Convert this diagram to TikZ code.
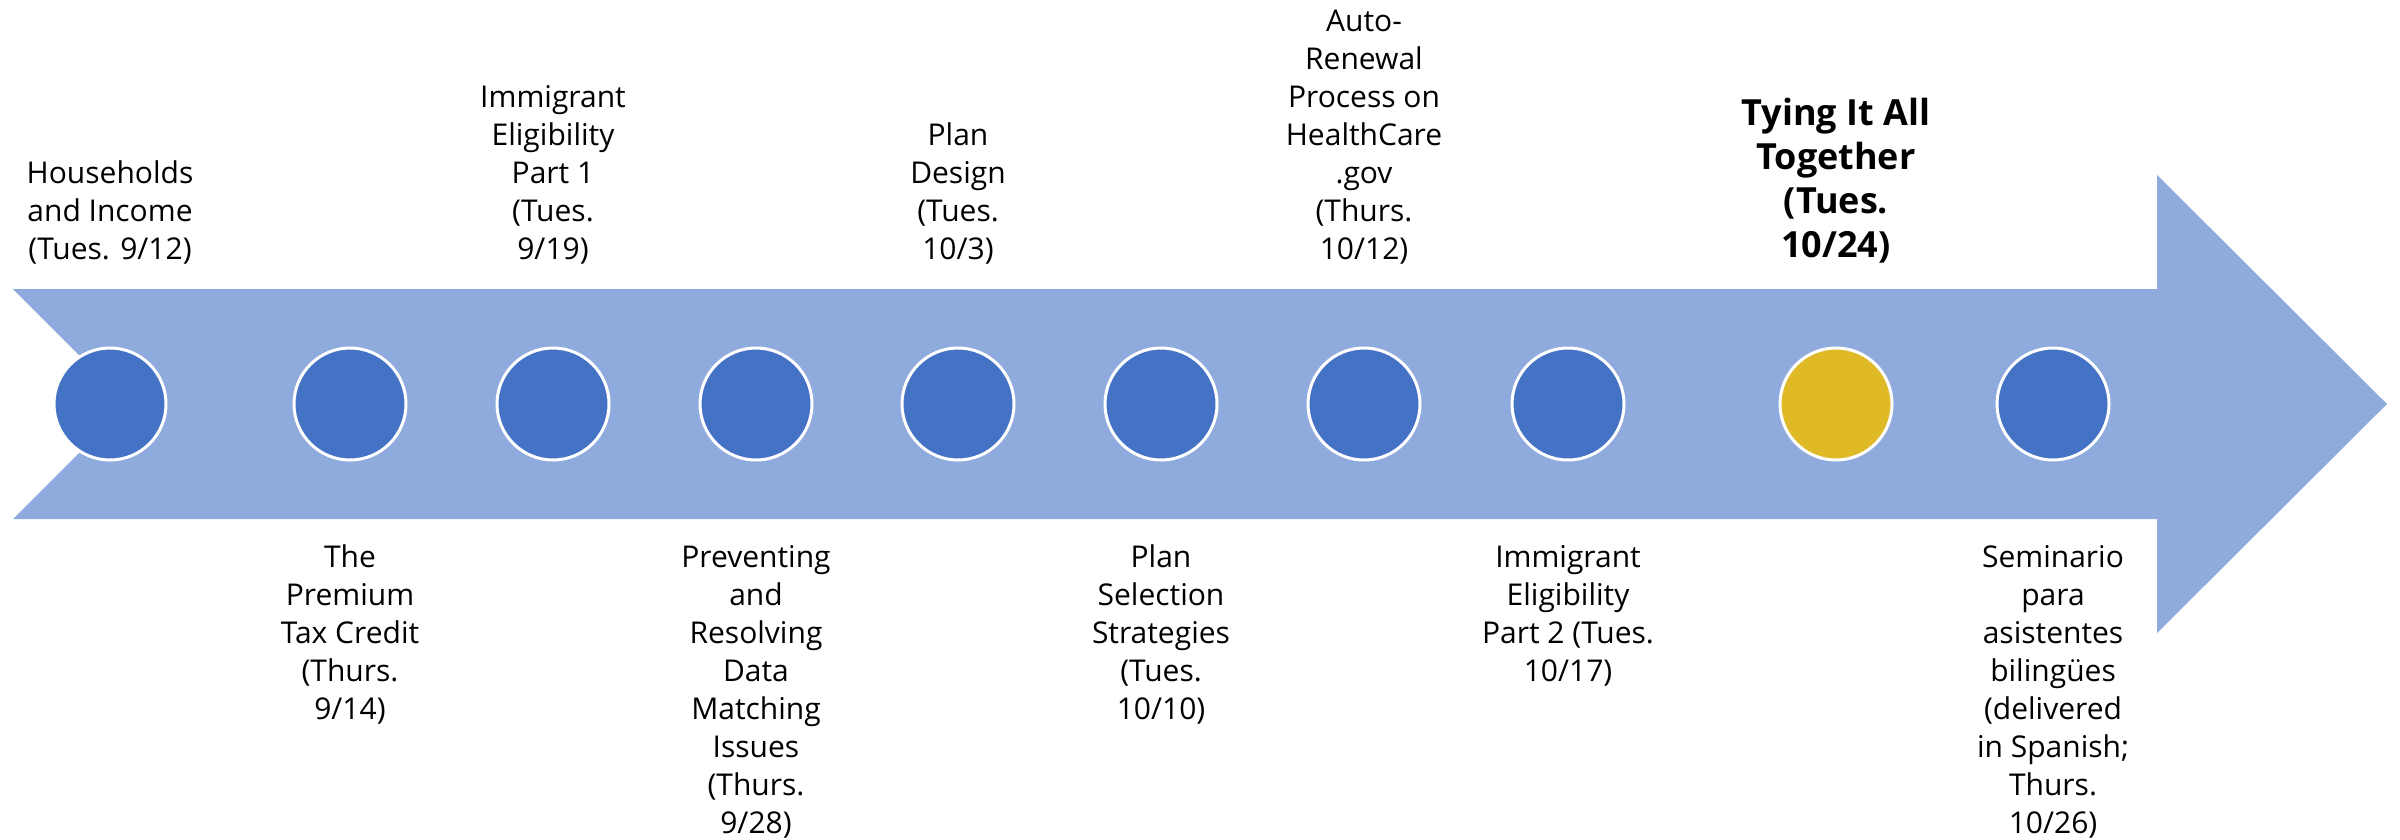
\documentclass[tikz,border=0pt]{standalone}
\usepackage{fontspec}
\setmainfont{Open Sans}
\definecolor{arrowblue}{HTML}{8FAADC}
\definecolor{dotblue}{HTML}{4472C4}
\definecolor{dotgold}{HTML}{E0B926}
\begin{document}
\begin{tikzpicture}[x=1pt,y=-1pt,
  dot/.style={circle, fill=dotblue, draw=white, line width=3pt, minimum size=112pt, inner sep=0pt},
  golddot/.style={dot, fill=dotgold},
  lab/.style={align=center, inner sep=0pt, text depth=0pt, anchor=south, font=\fontsize{30}{38}\selectfont},
  boldlab/.style={lab, font=\fontsize{36}{44}\selectfont\bfseries}]
\useasboundingbox (0,0) rectangle (2400,839);
% timeline arrow
\fill[arrowblue] (13,289) -- (2157,289) -- (2157,175) -- (2387,404) -- (2157,633)
  -- (2157,519) -- (13,519) -- (128,404) -- cycle;
% milestones
\node[dot] (c1) at (110,404) {};
\node[dot] (c2) at (350,404) {};
\node[dot] (c3) at (553,404) {};
\node[dot] (c4) at (756,404) {};
\node[dot] (c5) at (958,404) {};
\node[dot] (c6) at (1161,404) {};
\node[dot] (c7) at (1364,404) {};
\node[dot] (c8) at (1568,404) {};
\node[golddot] (c9) at (1836,404) {};
\node[dot] (c10) at (2053,404) {};
% labels above
\node[lab] (l1) at (110,260) {Households\\and Income\\(Tues. 9/12)};
\node[lab] (l3) at (553,260) {Immigrant\\Eligibility\\Part 1\\(Tues.\\9/19)};
\node[lab] (l5) at (958,260) {Plan\\Design\\(Tues.\\10/3)};
\node[lab] (l7) at (1364,260) {Auto-\\Renewal\\Process on\\HealthCare\\.gov\\(Thurs.\\10/12)};
\node[boldlab] (l9) at (1836,258) {Tying It All\\Together\\(Tues.\\10/24)};
% labels below
\node[lab] (l2) at (350,720) {The\\Premium\\Tax Credit\\(Thurs.\\9/14)};
\node[lab] (l4) at (756,834) {Preventing\\and\\Resolving\\Data\\Matching\\Issues\\(Thurs.\\9/28)};
\node[lab] (l6) at (1161,720) {Plan\\Selection\\Strategies\\(Tues.\\10/10)};
\node[lab] (l8) at (1568,682) {Immigrant\\Eligibility\\Part 2 (Tues.\\10/17)};
\node[lab] (l10) at (2053,834) {Seminario\\para\\asistentes\\bilingües\\(delivered\\in Spanish;\\Thurs.\\10/26)};
\end{tikzpicture}
\end{document}
